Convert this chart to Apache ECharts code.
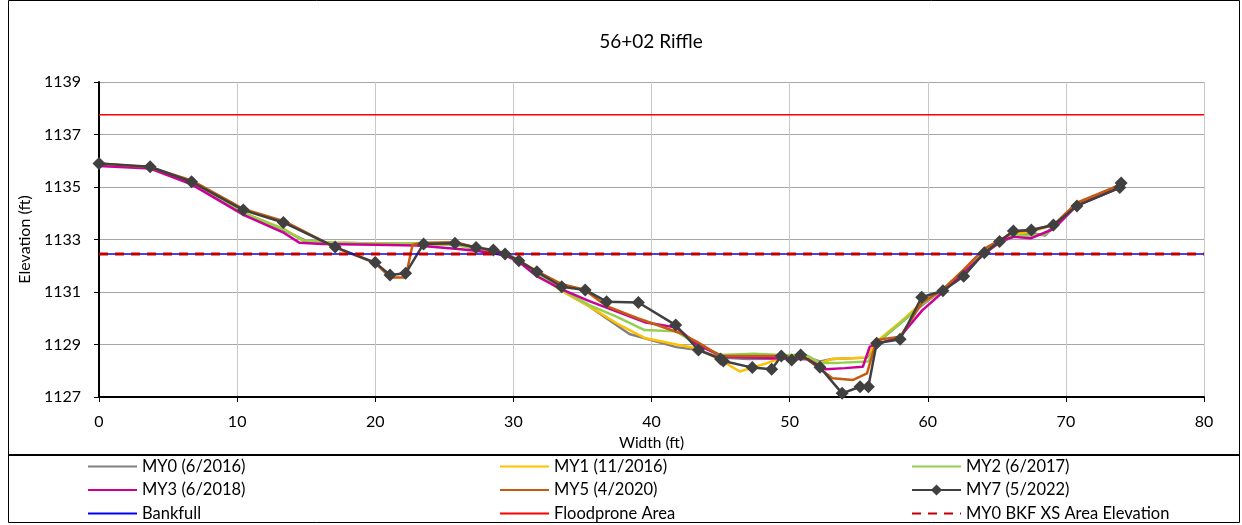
<!DOCTYPE html>
<html>
<head>
<meta charset="utf-8">
<script src="https://cdn.jsdelivr.net/npm/echarts@6/dist/echarts.min.js"></script>
<style>
html,body{margin:0;padding:0;background:#fff;}
#chart{width:1242px;height:525px;}
</style>
</head>
<body>
<div id="chart"></div>
<script>
// ---- data ----
const title = '56+02 Riffle';
const xTicks = [0, 10, 20, 30, 40, 50, 60, 70, 80];
const yTicks = [1127, 1129, 1131, 1133, 1135, 1137, 1139];

const my0 = [[0,1135.85],[3.7,1135.75],[6.7,1135.15],[10.5,1134.0],[13.4,1133.35],[15,1132.95],[17,1132.88],[20,1132.85],[23,1132.85],[25.8,1132.8],[27.3,1132.7],[29.4,1132.5],[30.4,1132.2],[31.7,1131.7],[33.5,1131.05],[35.5,1130.45],[38.4,1129.4],[41.8,1128.9],[43.3,1128.8],[45,1128.5],[47,1128.45],[49.3,1128.47],[51,1128.55],[52.2,1128.35],[53.1,1128.45],[55.6,1128.5],[56.3,1129.05],[58,1129.8],[59.6,1130.5],[61.1,1131.1],[62.6,1131.8],[64.1,1132.5],[65.3,1132.9],[66.2,1133.1],[67.5,1133.25],[68.5,1133.15],[69.1,1133.5],[70.8,1134.3],[74,1135.0]];
const my1 = [[0,1135.85],[3.7,1135.75],[6.7,1135.15],[10.5,1134.0],[13.4,1133.4],[14.8,1132.95],[17,1132.88],[20,1132.85],[23,1132.85],[25.8,1132.8],[27.3,1132.65],[29.4,1132.45],[30.4,1132.2],[31.7,1131.7],[33.5,1131.05],[35.5,1130.45],[37.5,1129.8],[39.5,1129.25],[41.8,1129.0],[43.3,1128.85],[45,1128.4],[46.4,1127.97],[48.3,1128.28],[49.5,1128.5],[51,1128.55],[52.2,1128.3],[53.1,1128.45],[55.5,1128.5],[56.5,1129.2],[58,1129.85],[59.6,1130.6],[61.1,1131.1],[62.6,1131.8],[64.1,1132.5],[65.3,1133.0],[66.2,1133.2],[67.5,1133.3],[69.1,1133.55],[70.8,1134.35],[74,1135.1]];
const my2 = [[0,1135.85],[3.7,1135.75],[6.7,1135.15],[10.5,1134.0],[13.4,1133.38],[14.8,1132.95],[17,1132.88],[20,1132.85],[23,1132.85],[25.8,1132.8],[27.3,1132.65],[29.4,1132.45],[30.4,1132.2],[31.7,1131.7],[33.5,1131.1],[35.5,1130.5],[37.5,1130.05],[39.5,1129.55],[41.8,1129.5],[43.3,1129.0],[45,1128.6],[47.4,1128.65],[49.3,1128.6],[51.2,1128.6],[52.2,1128.3],[53.5,1128.3],[55.7,1128.35],[56.4,1129.1],[58,1129.8],[59.6,1130.55],[61.1,1131.1],[62.6,1131.8],[64.1,1132.5],[65.3,1132.95],[66.2,1133.15],[67.5,1133.15],[68.5,1133.2],[69.1,1133.5],[70.8,1134.3],[74,1135.05]];
const my3 = [[0,1135.8],[3.7,1135.7],[6.7,1135.1],[10.5,1133.93],[13.4,1133.25],[14.5,1132.88],[16.2,1132.83],[20,1132.8],[23,1132.77],[25.8,1132.65],[27.3,1132.57],[29.4,1132.4],[30.4,1132.15],[31.7,1131.6],[33.5,1131.1],[35.5,1130.65],[37.5,1130.25],[39.5,1129.85],[41.8,1129.65],[43.3,1129.0],[45.2,1128.53],[47.4,1128.5],[49.3,1128.47],[51.3,1128.44],[52.6,1128.06],[54,1128.1],[55.3,1128.15],[55.8,1128.92],[58,1129.3],[59.6,1130.3],[61.1,1131.0],[62.6,1131.75],[64.1,1132.45],[65.3,1132.95],[66.2,1133.1],[67.5,1133.05],[69.1,1133.4],[70.8,1134.3],[74,1135.0]];
const my5 = [[0,1135.9],[3.7,1135.75],[6.7,1135.25],[10.5,1134.15],[13.4,1133.7],[17.1,1132.7],[20,1132.1],[21.1,1131.55],[22.2,1131.55],[22.7,1132.8],[23.5,1132.88],[25.8,1132.9],[27.3,1132.7],[29.4,1132.45],[30.4,1132.2],[31.7,1131.8],[33.5,1131.3],[35.1,1131.1],[36.8,1130.45],[39,1130.0],[42.1,1129.43],[43.3,1129.1],[45,1128.56],[47.3,1128.56],[49.3,1128.56],[51.2,1128.47],[53.1,1127.71],[54.6,1127.65],[55.6,1127.9],[56.3,1129.17],[58,1129.3],[59.6,1130.6],[61.1,1131.1],[62.6,1131.85],[64.1,1132.65],[65.3,1133.0],[66.2,1133.3],[67.5,1133.35],[69.1,1133.55],[70.8,1134.4],[74,1135.1]];
const my7 = [[0,1135.9],[3.7,1135.77],[6.7,1135.2],[10.45,1134.12],[13.35,1133.65],[17.1,1132.71],[20,1132.12],[21.07,1131.65],[22.2,1131.71],[23.5,1132.83],[25.77,1132.86],[27.3,1132.7],[28.55,1132.6],[29.4,1132.45],[30.4,1132.19],[31.7,1131.77],[33.5,1131.2],[35.2,1131.08],[36.75,1130.63],[39.05,1130.6],[41.75,1129.74],[43.4,1128.79],[45.0,1128.45],[45.2,1128.37],[47.3,1128.12],[48.7,1128.06],[49.4,1128.56],[50.15,1128.41],[50.8,1128.6],[52.2,1128.13],[53.8,1127.14],[55.1,1127.39],[55.7,1127.39],[56.3,1129.05],[58.0,1129.2],[59.56,1130.8],[61.1,1131.05],[62.6,1131.6],[64.1,1132.5],[65.2,1132.92],[66.2,1133.32],[67.5,1133.36],[69.1,1133.55],[70.8,1134.28],[73.9,1134.98],[74.0,1135.15]];
const bankfull = [[0,1132.45],[80,1132.45]];
const floodprone = [[0,1137.75],[80,1137.75]];
const bkfXsArea = [[0,1132.45],[80,1132.45]];

const names = ['MY0 (6/2016)','MY1 (11/2016)','MY2 (6/2017)','MY3 (6/2018)','MY5 (4/2020)','MY7 (5/2022)','Bankfull','Floodprone Area','MY0 BKF XS Area Elevation'];

const FONT = 'Lato, "Open Sans", sans-serif';

function lineSeries(name, data, color, width, extra) {
  return Object.assign({
    name: name, type: 'line', data: data, symbol: 'none', silent: true, animation: false,
    lineStyle: {color: color, width: width}, itemStyle: {color: color, opacity: 0}
  }, extra || {});
}

const chart = echarts.init(document.getElementById('chart'), null, {renderer: 'canvas'});
const legendCommon = {
  orient: 'vertical', itemWidth: 49, itemHeight: 14, itemGap: 6.5, height: 120,
  textStyle: {fontFamily: FONT, fontSize: 16.5, lineHeight: 16, color: '#000'}, selectedMode: false, padding: 0
};
chart.setOption({
  animation: false,
  backgroundColor: '#fff',
  grid: {left: 99, right: 38, top: 82, bottom: 128, containLabel: false},
  xAxis: {
    type: 'value', min: 0, max: 80, interval: 10,
    name: 'Width (ft)', nameLocation: 'middle', nameGap: 36,
    nameTextStyle: {fontFamily: FONT, fontSize: 15.5, color: '#000'},
    axisLine: {show: true, onZero: false, lineStyle: {color: '#000', width: 2}},
    axisTick: {show: true, length: 5, lineStyle: {color: '#000'}},
    axisLabel: {fontFamily: FONT, fontSize: 16, color: '#000', margin: 17, formatter: v => xTicks.includes(v) ? String(v) : ''},
    splitLine: {show: true, lineStyle: {color: '#c8c8c8', width: 1}}
  },
  yAxis: {
    type: 'value', min: 1127, max: 1139, interval: 2,
    name: 'Elevation (ft)', nameLocation: 'middle', nameGap: 60, nameRotate: 90,
    nameTextStyle: {fontFamily: FONT, fontSize: 16, color: '#000'},
    axisLine: {show: true, onZero: false, lineStyle: {color: '#000', width: 2}},
    axisTick: {show: true, length: 5, lineStyle: {color: '#000'}},
    axisLabel: {fontFamily: FONT, fontSize: 16, color: '#000', margin: 18, formatter: v => yTicks.includes(v) ? String(v) : ''},
    splitLine: {show: true, lineStyle: {color: '#a6a6a6', width: 1}}
  },
  legend: [
    Object.assign({}, legendCommon, {left: 87, top: 458, data: [names[0], names[3], names[6]]}),
    Object.assign({}, legendCommon, {left: 499, top: 458, data: [names[1], names[4], names[7]]}),
    Object.assign({}, legendCommon, {left: 911, top: 458, data: [names[2], names[5], names[8]]})
  ],
  graphic: [
    {type: 'rect', shape: {x: 8.5, y: 0.5, width: 1231, height: 455}, style: {fill: 'none', stroke: '#000', lineWidth: 1}, silent: true, z: -1},
    {type: 'rect', shape: {x: 8.5, y: 455.5, width: 1231, height: 67}, style: {fill: 'none', stroke: '#000', lineWidth: 1}, silent: true, z: -1},
    {type: 'line', shape: {x1: 8, y1: 455, x2: 1240, y2: 455}, style: {stroke: '#000', lineWidth: 2}, silent: true},
    {type: 'text', x: 651, y: 42, silent: true, style: {text: title, fontFamily: FONT, fontSize: 19, fill: '#000', align: 'center', verticalAlign: 'middle'}}
  ],
  series: [
    lineSeries(names[0], my0, '#808080', 2.5),
    lineSeries(names[1], my1, '#FFC000', 2.5),
    lineSeries(names[2], my2, '#92D050', 2.5),
    lineSeries(names[3], my3, '#CC0099', 2.5),
    lineSeries(names[4], my5, '#C55A11', 2.5),
    lineSeries(names[5], my7, '#404040', 2.5, {symbol: 'diamond', symbolSize: 13, showSymbol: true, itemStyle: {color: '#404040'}}),
    lineSeries(names[6], bankfull, '#0000FF', 1.5),
    lineSeries(names[7], floodprone, '#FF0000', 1.5),
    lineSeries(names[8], bkfXsArea, '#C00000', 3, {lineStyle: {color: '#C00000', width: 3, type: [9, 7]}})
  ]
});
</script>
</body>
</html>
